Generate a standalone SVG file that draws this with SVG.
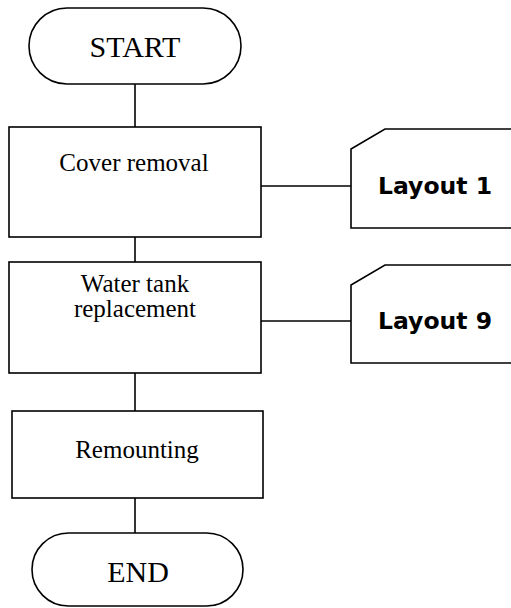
<svg xmlns="http://www.w3.org/2000/svg" width="511" height="608" viewBox="0 0 511 608">
<style>
.s{fill:#fff;stroke:#000;stroke-width:1.6}
.c{fill:none;stroke:#000;stroke-width:1.6}
.t{font-family:"Liberation Serif","Times New Roman",serif;font-size:25px;text-anchor:middle;fill:#000}
.tt{font-family:"Liberation Serif","Times New Roman",serif;font-size:30px;text-anchor:middle;fill:#000}
.b{font-family:"DejaVu Sans",Verdana,sans-serif;font-weight:bold;font-size:23.5px;text-anchor:middle;fill:#000}
</style>
<rect width="511" height="608" fill="#fff"/>
<g id="connectors">
<line class="c" x1="135" y1="84" x2="135" y2="127"/>
<line class="c" x1="135" y1="237" x2="135" y2="262"/>
<line class="c" x1="135" y1="373" x2="135" y2="411"/>
<line class="c" x1="135" y1="498" x2="135" y2="533"/>
<line class="c" x1="261" y1="186" x2="351" y2="186"/>
<line class="c" x1="261" y1="321" x2="351" y2="321"/>
</g>
<g id="start">
<rect class="s" x="29" y="8" width="212" height="76" rx="38" ry="38"/>
<text class="tt" x="135" y="57">START</text>
</g>
<g id="cover">
<rect class="s" x="9" y="127" width="252" height="110"/>
<text class="t" x="134" y="171">Cover removal</text>
</g>
<g id="layout1">
<path class="s" d="M513,228 H351 V149 L385,129 H513"/>
<text class="b" x="435" y="194">Layout 1</text>
</g>
<g id="water">
<rect class="s" x="9" y="262" width="252" height="111"/>
<text class="t" x="135" y="292">Water tank</text>
<text class="t" x="135" y="317">replacement</text>
</g>
<g id="layout9">
<path class="s" d="M513,363 H351 V285 L385,265 H513"/>
<text class="b" x="435" y="329">Layout 9</text>
</g>
<g id="remount">
<rect class="s" x="12" y="411" width="251" height="87"/>
<text class="t" x="137" y="458">Remounting</text>
</g>
<g id="end">
<rect class="s" x="32" y="533" width="211" height="73" rx="36.5" ry="36.5"/>
<text class="tt" x="138" y="582">END</text>
</g>
</svg>
